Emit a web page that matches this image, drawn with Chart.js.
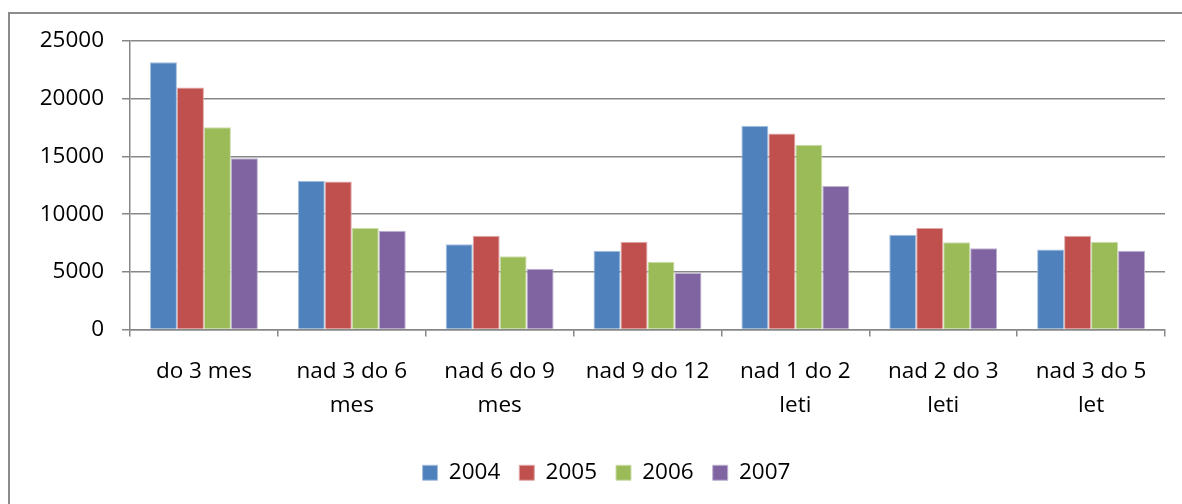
<!DOCTYPE html>
<html>
<head>
<meta charset="utf-8">
<script src="https://cdn.jsdelivr.net/npm/chart.js@4.4.1/dist/chart.umd.min.js"></script>
<style>
  html, body { margin: 0; padding: 0; background: #ffffff; }
  #wrap { width: 1182px; height: 504px; position: relative; }
</style>
</head>
<body>
<div id="wrap"><canvas id="c" width="1182" height="504"></canvas></div>
<script>
const categories = [
  ["do 3 mes"],
  ["nad 3 do 6", "mes"],
  ["nad 6 do 9", "mes"],
  ["nad 9 do 12"],
  ["nad 1 do 2", "leti"],
  ["nad 2 do 3", "leti"],
  ["nad 3 do 5", "let"]
];
const seriesNames = ["2004", "2005", "2006", "2007"];
const values2004 = [23150, 12900, 7380, 6830, 17650, 8220, 6940];
const values2005 = [20980, 12820, 8130, 7610, 16990, 8800, 8130];
const values2006 = [17530, 8800, 6340, 5870, 16000, 7550, 7610];
const values2007 = [14840, 8560, 5270, 4890, 12440, 7030, 6830];
const yTicks = [0, 5000, 10000, 15000, 20000, 25000];

const colors = ["#4F81BD", "#C0504D", "#9BBB59", "#8064A2"];
const borders = ["#A7C0DE", "#E0A8A6", "#CDDDAC", "#BFB1D0"];
const allValues = [values2004, values2005, values2006, values2007];

const FONT = "'Open Sans', 'Noto Sans', 'Liberation Sans', sans-serif";
const GRID = "#878787";

const frame = {
  id: "frame",
  afterLayout(chart) {
    if (chart.legend) {
      chart.legend.left += 24;
      chart.legend.right += 24;
    }
  },
  beforeDraw(chart) {
    const ctx = chart.ctx;
    ctx.save();
    ctx.fillStyle = "#ffffff";
    ctx.fillRect(0, 0, chart.width, chart.height);
    ctx.strokeStyle = "#8c8c8c";
    ctx.lineWidth = 2;
    ctx.strokeRect(9, 13, chart.width + 20, chart.height + 20);
    ctx.restore();
  }
};

new Chart(document.getElementById("c"), {
  type: "bar",
  data: {
    labels: categories,
    datasets: seriesNames.map((n, i) => ({
      label: n,
      data: allValues[i],
      backgroundColor: colors[i],
      borderColor: borders[i],
      borderWidth: 1,
      categoryPercentage: 0.73,
      barPercentage: 1.0
    }))
  },
  options: {
    responsive: false,
    animation: false,
    devicePixelRatio: 1,
    layout: { padding: { left: 0, right: 17, top: 41, bottom: 10 } },
    plugins: {
      title: { display: false },
      tooltip: { enabled: false },
      legend: {
        position: "bottom",
        labels: {
          boxWidth: 15,
          boxHeight: 15,
          padding: 19,
          color: "#000000",
          font: { family: FONT, size: 22.5 }
        }
      }
    },
    scales: {
      x: {
        grid: { display: true, drawOnChartArea: false, drawTicks: true, tickLength: 7, color: GRID, lineWidth: 1.5, offset: true },
        border: { display: true, color: GRID, width: 1.5 },
        ticks: {
          color: "#000000",
          font: { family: FONT, size: 22.5, lineHeight: 1.47 },
          padding: 19,
          maxRotation: 0,
          autoSkip: false
        },
        afterFit(scale) { scale.height = 113; }
      },
      y: {
        min: 0,
        max: 25000,
        afterBuildTicks(scale) { scale.ticks = yTicks.map(v => ({ value: v })); },
        grid: { color: GRID, lineWidth: 1.5, tickLength: 8, drawTicks: true },
        border: { display: true, color: GRID, width: 1.5 },
        ticks: {
          color: "#000000",
          font: { family: FONT, size: 22.5 },
          padding: 18,
          callback: (v) => String(v)
        },
        afterFit(scale) { scale.width = 130; }
      }
    }
  },
  plugins: [frame]
});
</script>
</body>
</html>
